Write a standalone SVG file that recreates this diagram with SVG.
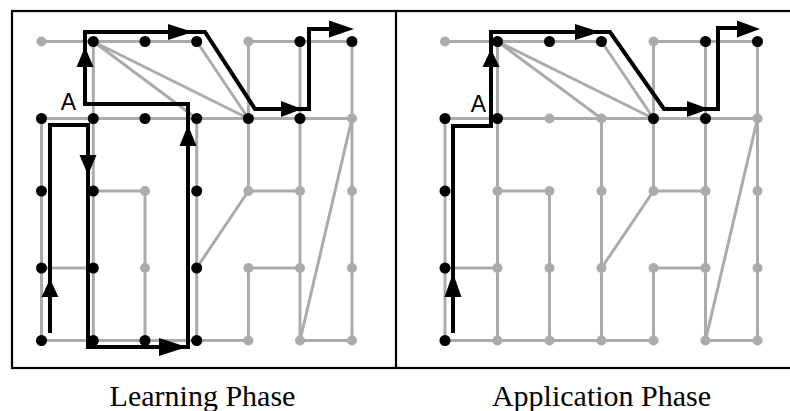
<svg xmlns="http://www.w3.org/2000/svg" width="790" height="411" viewBox="0 0 790 411">
<style>
.frame{fill:none;stroke:#000;stroke-width:2.2}
.g{fill:none;stroke:#ababab;stroke-width:3}
.p{fill:none;stroke:#000;stroke-width:4;stroke-linejoin:miter}
.ah{fill:#000;stroke:none}
.nb{fill:#000}
.ng{fill:#ababab}
.lbl{font-family:"Liberation Sans",Arial,sans-serif;font-size:23px;fill:#000}
.cap{font-family:"Liberation Serif","Times New Roman",serif;font-size:30px;fill:#000}
</style>
<rect width="790" height="411" fill="#fff"/>
<rect class="frame" x="12" y="11" width="782" height="357"/>
<line class="frame" x1="396" y1="11" x2="396" y2="368"/>

<g id="connectors">
<g id="left-edges">
<path class="g" d="M41.5,41.5 H196.7 M248.4,41.5 H352 M41.5,118.5 H352 M93.3,191 H145 M248.4,191 H300 M41.5,268 H93.3 M248.4,268 H300 M41.5,340.5 H248.4 M300,340.5 H352"/>
<path class="g" d="M41.5,118.5 V340.5 M93.3,41.5 V340.5 M145,191 V340.5 M196.7,118.5 V340.5 M248.4,41.5 V191 M248.4,268 V340.5 M300,41.5 V340.5 M352,41.5 V340.5"/>
<path class="g" d="M93.3,41.5 L196.7,118.5 M93.3,41.5 L248.4,118.5 M196.7,41.5 L248.4,118.5 M196.7,268 L248.4,191 M352,118.5 L300,340.5"/>
</g>
<g id="right-edges">
<path class="g" d="M445,41.5 H601.5 M653.5,41.5 H757.5 M445,118.5 H757.5 M497.5,191 H549.5 M653.5,191 H705.5 M445,268 H497.5 M653.5,268 H705.5 M445,340.5 H653.5 M705.5,340.5 H757.5"/>
<path class="g" d="M445,118.5 V340.5 M497.5,41.5 V340.5 M549.5,191 V340.5 M601.5,118.5 V340.5 M653.5,41.5 V191 M653.5,268 V340.5 M705.5,41.5 V340.5 M757.5,41.5 V340.5"/>
<path class="g" d="M497.5,41.5 L601.5,118.5 M497.5,41.5 L653.5,118.5 M601.5,41.5 L653.5,118.5 M601.5,268 L653.5,191 M757.5,118.5 L705.5,340.5"/>
</g>
</g>

<g id="left-nodes">
<g id="L00"><circle class="ng" cx="41.5" cy="41.5" r="5"/></g>
<g id="L10"><circle class="nb" cx="93.3" cy="41.5" r="5.5"/></g>
<g id="L20"><circle class="nb" cx="145" cy="41.5" r="5.5"/></g>
<g id="L30"><circle class="nb" cx="196.7" cy="41.5" r="5.5"/></g>
<g id="L40"><circle class="ng" cx="248.4" cy="41.5" r="5"/></g>
<g id="L50"><circle class="nb" cx="300" cy="41.5" r="5.5"/></g>
<g id="L60"><circle class="nb" cx="352" cy="41.5" r="5.5"/></g>
<g id="L01"><circle class="nb" cx="41.5" cy="118.5" r="5.5"/></g>
<g id="L11"><circle class="nb" cx="93.3" cy="118.5" r="5.5"/></g>
<g id="L21"><circle class="nb" cx="145" cy="118.5" r="5.5"/></g>
<g id="L31"><circle class="nb" cx="196.7" cy="118.5" r="5.5"/></g>
<g id="L41"><circle class="nb" cx="248.4" cy="118.5" r="5.5"/></g>
<g id="L51"><circle class="nb" cx="300" cy="118.5" r="5.5"/></g>
<g id="L61"><circle class="ng" cx="352" cy="118.5" r="5"/></g>
<g id="L02"><circle class="nb" cx="41.5" cy="191" r="5.5"/></g>
<g id="L12"><circle class="nb" cx="93.3" cy="191" r="5.5"/></g>
<g id="L22"><circle class="ng" cx="145" cy="191" r="5"/></g>
<g id="L32"><circle class="nb" cx="196.7" cy="191" r="5.5"/></g>
<g id="L42"><circle class="ng" cx="248.4" cy="191" r="5"/></g>
<g id="L52"><circle class="ng" cx="300" cy="191" r="5"/></g>
<g id="L62"><circle class="ng" cx="352" cy="191" r="5"/></g>
<g id="L03"><circle class="nb" cx="41.5" cy="268" r="5.5"/></g>
<g id="L13"><circle class="nb" cx="93.3" cy="268" r="5.5"/></g>
<g id="L23"><circle class="ng" cx="145" cy="268" r="5"/></g>
<g id="L33"><circle class="nb" cx="196.7" cy="268" r="5.5"/></g>
<g id="L43"><circle class="ng" cx="248.4" cy="268" r="5"/></g>
<g id="L53"><circle class="ng" cx="300" cy="268" r="5"/></g>
<g id="L63"><circle class="ng" cx="352" cy="268" r="5"/></g>
<g id="L04"><circle class="nb" cx="41.5" cy="340.5" r="5.5"/></g>
<g id="L14"><circle class="nb" cx="93.3" cy="340.5" r="5.5"/></g>
<g id="L24"><circle class="nb" cx="145" cy="340.5" r="5.5"/></g>
<g id="L34"><circle class="nb" cx="196.7" cy="340.5" r="5.5"/></g>
<g id="L44"><circle class="ng" cx="248.4" cy="340.5" r="5"/></g>
<g id="L54"><circle class="ng" cx="300" cy="340.5" r="5"/></g>
<g id="L64"><circle class="ng" cx="352" cy="340.5" r="5"/></g>
</g>

<g id="right-nodes">
<g id="R00"><circle class="ng" cx="445" cy="41.5" r="5"/></g>
<g id="R10"><circle class="nb" cx="497.5" cy="41.5" r="5.5"/></g>
<g id="R20"><circle class="nb" cx="549.5" cy="41.5" r="5.5"/></g>
<g id="R30"><circle class="nb" cx="601.5" cy="41.5" r="5.5"/></g>
<g id="R40"><circle class="ng" cx="653.5" cy="41.5" r="5"/></g>
<g id="R50"><circle class="nb" cx="705.5" cy="41.5" r="5.5"/></g>
<g id="R60"><circle class="nb" cx="757.5" cy="41.5" r="5.5"/></g>
<g id="R01"><circle class="nb" cx="445" cy="118.5" r="5.5"/></g>
<g id="R11"><circle class="nb" cx="497.5" cy="118.5" r="5.5"/></g>
<g id="R21"><circle class="ng" cx="549.5" cy="118.5" r="5"/></g>
<g id="R31"><circle class="ng" cx="601.5" cy="118.5" r="5"/></g>
<g id="R41"><circle class="nb" cx="653.5" cy="118.5" r="5.5"/></g>
<g id="R51"><circle class="nb" cx="705.5" cy="118.5" r="5.5"/></g>
<g id="R61"><circle class="ng" cx="757.5" cy="118.5" r="5"/></g>
<g id="R02"><circle class="nb" cx="445" cy="191" r="5.5"/></g>
<g id="R12"><circle class="ng" cx="497.5" cy="191" r="5"/></g>
<g id="R22"><circle class="ng" cx="549.5" cy="191" r="5"/></g>
<g id="R32"><circle class="ng" cx="601.5" cy="191" r="5"/></g>
<g id="R42"><circle class="ng" cx="653.5" cy="191" r="5"/></g>
<g id="R52"><circle class="ng" cx="705.5" cy="191" r="5"/></g>
<g id="R62"><circle class="ng" cx="757.5" cy="191" r="5"/></g>
<g id="R03"><circle class="nb" cx="445" cy="268" r="5.5"/></g>
<g id="R13"><circle class="ng" cx="497.5" cy="268" r="5"/></g>
<g id="R23"><circle class="ng" cx="549.5" cy="268" r="5"/></g>
<g id="R33"><circle class="ng" cx="601.5" cy="268" r="5"/></g>
<g id="R43"><circle class="ng" cx="653.5" cy="268" r="5"/></g>
<g id="R53"><circle class="ng" cx="705.5" cy="268" r="5"/></g>
<g id="R63"><circle class="ng" cx="757.5" cy="268" r="5"/></g>
<g id="R04"><circle class="nb" cx="445" cy="340.5" r="5.5"/></g>
<g id="R14"><circle class="ng" cx="497.5" cy="340.5" r="5"/></g>
<g id="R24"><circle class="ng" cx="549.5" cy="340.5" r="5"/></g>
<g id="R34"><circle class="ng" cx="601.5" cy="340.5" r="5"/></g>
<g id="R44"><circle class="ng" cx="653.5" cy="340.5" r="5"/></g>
<g id="R54"><circle class="ng" cx="705.5" cy="340.5" r="5"/></g>
<g id="R64"><circle class="ng" cx="757.5" cy="340.5" r="5"/></g>
</g>

<g id="paths">
<g id="left-path">
<path class="p" d="M50,333 V125 H88 V347 H188 V104 H85 V32 H205 L255,109 H309 V29 H346"/>
<polygon class="ah" points="50,279 41.5,297 58.5,297"/>
<polygon class="ah" points="88,175 79.5,155 96.5,155"/>
<polygon class="ah" points="187,347 159,338 159,356"/>
<polygon class="ah" points="188,125 179.5,146 196.5,146"/>
<polygon class="ah" points="85,47 76.5,67 93.5,67"/>
<polygon class="ah" points="193,32 168,24 168,40"/>
<polygon class="ah" points="302,109 281,101 281,117"/>
<polygon class="ah" points="354,29 329,20.5 329,37.5"/>
</g>
<g id="right-path">
<path class="p" d="M453,333 V126 H491 V32 H610 L664,109 H718 V28 H752"/>
<polygon class="ah" points="453,273 444.5,297 461.5,297"/>
<polygon class="ah" points="491,49 482.5,67 499.5,67"/>
<polygon class="ah" points="600,32 575,24 575,40"/>
<polygon class="ah" points="709,109 687,101 687,117"/>
<polygon class="ah" points="760,29 737,20.5 737,37.5"/>
</g>
</g>

<g id="labels">
<text class="lbl" x="68.5" y="109.5" text-anchor="middle">A</text>
<text class="lbl" x="478.5" y="111.5" text-anchor="middle">A</text>
<text class="cap" x="202.5" y="406" text-anchor="middle">Learning Phase</text>
<text class="cap" x="601.5" y="406" text-anchor="middle">Application Phase</text>
</g>
</svg>
